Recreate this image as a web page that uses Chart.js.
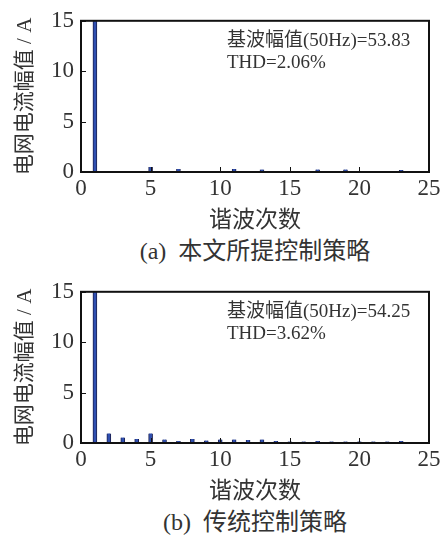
<!DOCTYPE html>
<html><head><meta charset="utf-8">
<script src="https://cdn.jsdelivr.net/npm/chart.js@4.4.0/dist/chart.umd.min.js"></script>
<style>
html,body{margin:0;padding:0;background:#fff;}
body{width:444px;height:540px;position:relative;overflow:hidden;font-family:'Liberation Serif','Noto Sans CJK SC',serif;color:#333;}
.blk{position:absolute;left:0;width:444px;height:271px;}
.blk canvas{position:absolute;left:0;top:0;}
.cap{position:absolute;left:81px;width:348px;text-align:center;font-size:24px;line-height:26px;top:238px;white-space:pre;}
</style></head>
<body>
<div class="blk" style="top:0"><canvas id="c1" width="444" height="235"></canvas><div class="cap" id="cap1"></div></div>
<div class="blk" style="top:271px"><canvas id="c2" width="444" height="235"></canvas><div class="cap" id="cap2"></div></div>
<script>
// ---- data ----
const harmonicsA = [1,2,3,4,5,6,7,8,9,10,11,12,13,14,15,16,17,18,19,20,21,22,23,24];
const valuesA    = [53.83,0.03,0.03,0.03,0.5,0.03,0.3,0.03,0.03,0.03,0.3,0.03,0.25,0.03,0.03,0.03,0.25,0.03,0.25,0.03,0.03,0.03,0.2,0.03];
const harmonicsB = [1,2,3,4,5,6,7,8,9,10,11,12,13,14,15,16,17,18,19,20,21,22,23,24];
const valuesB    = [54.25,0.95,0.55,0.4,0.95,0.35,0.2,0.4,0.25,0.35,0.35,0.3,0.35,0.2,0.15,0.15,0.2,0.15,0.15,0.15,0.15,0.15,0.2,0.1];
const xTicks = [0,5,10,15,20,25];
const yTicks = [0,5,10,15];
const annotA = ["基波幅值(50Hz)=53.83","THD=2.06%"];
const annotB = ["基波幅值(50Hz)=54.25","THD=3.62%"];
const captionA = "(a)  本文所提控制策略";
const captionB = "(b)  传统控制策略";
const xTitle = "谐波次数";
const yTitle = "电网电流幅值 / A";

const FONT = "'Liberation Serif', 'Noto Sans CJK SC', serif";
const TXT = '#333';

const boxPlugin = {
  id:'box',
  afterDatasetsDraw(chart, args, opts){
    const {ctx, chartArea:a, scales:{x,y}} = chart;
    ctx.save();
    ctx.strokeStyle = '#111';
    ctx.lineWidth = 1;
    ctx.beginPath();
    x.ticks.forEach((t,i)=>{ const px = Math.round(x.getPixelForTick(i))+0.5; ctx.moveTo(px,a.bottom); ctx.lineTo(px,a.bottom-5); });
    y.ticks.forEach((t,i)=>{ const py = Math.round(y.getPixelForTick(i))+0.5; ctx.moveTo(a.left,py); ctx.lineTo(a.left+5,py); });
    ctx.stroke();
    ctx.lineWidth = 2;
    ctx.strokeRect(a.left, a.top, a.right-a.left, a.bottom-a.top);
    ctx.fillStyle = TXT;
    ctx.font = '19px ' + FONT;
    ctx.textBaseline = 'middle';
    ctx.textAlign = 'left';
    opts.lines.forEach((s,i)=> ctx.fillText(s, a.left+146, a.top+20+i*22));
    ctx.restore();
  }
};

function makeChart(id, xs, vs, lines){
  return new Chart(document.getElementById(id), {
    type:'bar',
    data:{ datasets:[{ data: xs.map((h,i)=>({x:h,y:vs[i]})), backgroundColor:'#2f4fb0', borderColor:'#1b2050', borderWidth:{left:1,right:1,top:0,bottom:0}, barThickness:4 }]},
    options:{
      responsive:false, animation:false,
      layout:{padding:{left:0,right:15,top:16,bottom:0}},
      plugins:{legend:{display:false}, tooltip:{enabled:false}, box:{lines:lines}},
      scales:{
        x:{ type:'linear', min:0, max:25, offset:false,
            afterBuildTicks(s){ s.ticks = xTicks.map(v=>({value:v})); },
            afterFit(s){ s.height = 63; },
            grid:{display:false, drawTicks:false},
            border:{display:false},
            ticks:{ color:TXT, font:{family:FONT,size:23}, padding:3, maxRotation:0, autoSkip:false },
            title:{ display:true, text:xTitle, color:TXT, font:{family:FONT,size:23}, padding:{top:0,bottom:0} } },
        y:{ min:0, max:15,
            afterBuildTicks(s){ s.ticks = yTicks.map(v=>({value:v})); },
            afterFit(s){ s.width = 81; },
            grid:{display:false, drawTicks:false},
            border:{display:false},
            ticks:{ color:TXT, font:{family:FONT,size:23}, padding:7 },
            title:{ display:true, text:yTitle, color:TXT, font:{family:FONT,size:21}, padding:{top:13,bottom:0} } }
      }
    },
    plugins:[boxPlugin]
  });
}
makeChart('c1', harmonicsA, valuesA, annotA);
makeChart('c2', harmonicsB, valuesB, annotB);
document.getElementById('cap1').textContent = captionA;
document.getElementById('cap2').textContent = captionB;
</script>
</body></html>
